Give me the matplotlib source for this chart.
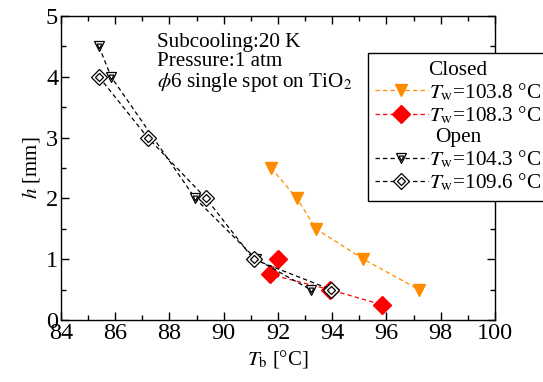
import matplotlib
matplotlib.use("Agg")
import matplotlib.pyplot as plt
from matplotlib.lines import Line2D
from matplotlib.ticker import MultipleLocator

plt.rcParams["font.family"] = ["Liberation Serif", "DejaVu Serif"]
plt.rcParams["mathtext.fontset"] = "stix"

# ── Data ──────────────────────────────────────────────────────────────────────
closed_a_tb = [91.75, 92.7, 93.4, 95.15, 97.2]      # Tw = 103.8 °C
closed_a_h = [2.5, 2.0, 1.5, 1.0, 0.5]
closed_b_tb = [92.0, 91.7, 93.9, 95.85]             # Tw = 108.3 °C
closed_b_h = [1.0, 0.75, 0.5, 0.25]
open_a_tb = [85.4, 85.85, 88.95, 91.2, 93.2]        # Tw = 104.3 °C
open_a_h = [4.5, 4.0, 2.0, 1.0, 0.5]
open_b_tb = [85.4, 87.2, 89.35, 91.1, 93.95]        # Tw = 109.6 °C
open_b_h = [4.0, 3.0, 2.0, 1.0, 0.5]

labels = ["$T_\\mathrm{w}$=103.8 °C", "$T_\\mathrm{w}$=108.3 °C",
          "$T_\\mathrm{w}$=104.3 °C", "$T_\\mathrm{w}$=109.6 °C"]

ORANGE = "#ff8c00"
RED = "#ff0000"

# ── Plot ──────────────────────────────────────────────────────────────────────
fig = plt.figure(figsize=(5.43, 3.82), dpi=100)
ax = fig.add_axes([0.1123, 0.1623, 0.7993, 0.7957])

dash = (0, (3.5, 2.5))
l1, = ax.plot(closed_a_tb, closed_a_h, ls=dash, lw=0.9, color=ORANGE,
              marker="v", ms=8.5, mec=ORANGE, mfc=ORANGE)
l2, = ax.plot(closed_b_tb, closed_b_h, ls=dash, lw=0.9, color=RED,
              marker="D", ms=9, mec=RED, mfc=RED)
l3o, = ax.plot(open_a_tb, open_a_h, ls=dash, lw=0.9, color="black",
               marker="v", ms=7.5, mec="black", mfc="white", mew=0.9)
l3i, = ax.plot(open_a_tb, open_a_h, ls="none", marker="v", ms=3.5,
               mec="black", mfc="none", mew=0.9)
l4o, = ax.plot(open_b_tb, open_b_h, ls=dash, lw=0.9, color="black",
               marker="D", ms=8.5, mec="black", mfc="white", mew=0.9)
l4i, = ax.plot(open_b_tb, open_b_h, ls="none", marker="D", ms=4.5,
               mec="black", mfc="none", mew=0.9)

ax.set_xlim(84, 100)
ax.set_ylim(0, 5)
ax.xaxis.set_major_locator(MultipleLocator(2))
ax.xaxis.set_minor_locator(MultipleLocator(1))
ax.yaxis.set_major_locator(MultipleLocator(1))
ax.yaxis.set_minor_locator(MultipleLocator(0.5))
ax.tick_params(which="both", direction="in", top=True, right=True,
               labelsize=17.5, pad=2, width=1)
ax.tick_params(which="major", length=6)
ax.tick_params(which="minor", length=3.5)
for s in ax.spines.values():
    s.set_linewidth(1)

ax.set_xlabel("$T_\\mathrm{b}$ [°C]", fontsize=15, labelpad=3)
ax.set_ylabel("$h$ [mm]", fontsize=15, labelpad=3)

ax.text(0.221, 0.945, "Subcooling:20 K\nPressure:1 atm\n$\\phi$6 single spot on TiO$_2$",
        transform=ax.transAxes, fontsize=15.2, va="top", ha="left",
        linespacing=1.0)

# legend with group headers
blank = Line2D([], [], ls="none", marker="none")
handles = [blank, l1, l2, blank, (l3o, l3i), (l4o, l4i)]
leg_labels = ["Closed", labels[0], labels[1], "Open", labels[2], labels[3]]
leg = ax.legend(handles, leg_labels, loc="upper left",
                bbox_to_anchor=(368 / 543, (382 - 53) / 382),
                bbox_transform=fig.transFigure, fontsize=15.3,
                frameon=True, fancybox=False, framealpha=1,
                edgecolor="black", handlelength=2.5, handletextpad=0.05,
                labelspacing=0.07, borderpad=0.32, borderaxespad=0)
leg.get_frame().set_linewidth(1)
col = leg._legend_handle_box.get_children()[0]
col.align = "center"
for i, row in enumerate(col.get_children()):
    if leg_labels[i] in ("Closed", "Open"):
        row.get_children()[0].width = 0
        row.sep = 0

fig.savefig("out.png", dpi=100)
